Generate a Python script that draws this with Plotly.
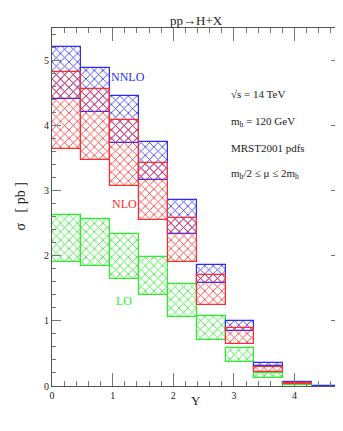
import plotly.graph_objects as go

# Bin edges in rapidity Y
bin_width = 0.477
bin_lo = [0.0, 0.477, 0.954, 1.431, 1.908, 2.385, 2.862, 3.339, 3.816, 4.293]

# NNLO band (blue)
nnlo_low  = [4.41, 4.21, 3.74, 3.16, 2.33, 1.59, 0.85, 0.300, 0.045, 0.000]
nnlo_high = [5.21, 4.88, 4.45, 3.75, 2.85, 1.856, 0.995, 0.356, 0.065, 0.006]
# NLO band (red)
nlo_low  = [3.64, 3.47, 3.07, 2.55, 1.91, 1.24, 0.64, 0.218, 0.030, None]
nlo_high = [4.82, 4.57, 4.08, 3.42, 2.58, 1.70, 0.89, 0.295, 0.045, None]
# LO band (green)
lo_low  = [1.91, 1.85, 1.65, 1.395, 1.06, 0.714, 0.37, 0.126, 0.010, None]
lo_high = [2.63, 2.56, 2.33, 1.985, 1.56, 1.07, 0.587, 0.20, 0.025, None]

FONT = "Liberation Serif"
BLUE = "#2b2bff"
RED = "#ff2b2b"
GREEN = "#2bee2b"
CLEAR = "rgba(0,0,0,0)"

fig = go.Figure()

def band(low, high, color, name):
    xs, bases, heights = [], [], []
    for x0, lo, hi in zip(bin_lo, low, high):
        if lo is None or hi is None:
            continue
        xs.append(x0 + bin_width / 2)
        bases.append(lo)
        heights.append(hi - lo)
    fig.add_trace(go.Bar(
        x=xs, y=heights, base=bases, width=bin_width, name=name,
        marker=dict(
            color=CLEAR,
            line=dict(color=color, width=1.2),
            pattern=dict(shape="x", fillmode="replace", fgcolor=color,
                         bgcolor=CLEAR, size=6, solidity=0.25),
        ),
        showlegend=False,
    ))

band(lo_low, lo_high, GREEN, "LO")
band(nnlo_low, nnlo_high, BLUE, "NNLO")
band(nlo_low, nlo_high, RED, "NLO")

ann = []
ann.append(dict(x=1.255, y=4.75, text="NNLO", showarrow=False,
                font=dict(family=FONT, size=12, color=BLUE)))
ann.append(dict(x=1.19, y=2.79, text="NLO", showarrow=False,
                font=dict(family=FONT, size=12, color=RED)))
ann.append(dict(x=1.19, y=1.30, text="LO", showarrow=False,
                font=dict(family=FONT, size=12, color=GREEN)))
info = ["√s = 14 TeV", "m<sub>h</sub> = 120 GeV", "MRST2001 pdfs",
        "m<sub>h</sub>/2 ≤ μ ≤ 2m<sub>h</sub>"]
info_y = [4.48, 4.06, 3.66, 3.25]
for t, yy in zip(info, info_y):
    ann.append(dict(x=2.92, y=yy, text=t, showarrow=False, xanchor="left",
                    font=dict(family=FONT, size=11, color="#222")))
ann.append(dict(xref="paper", yref="paper", x=0, y=0.5, xshift=-42,
                text="σ   [ pb ]", textangle=-90, showarrow=False,
                font=dict(family=FONT, size=14, color="#222")))
ann.append(dict(xref="paper", yref="paper", x=0.5, y=1, yshift=17,
                text="pp→H+X", showarrow=False,
                font=dict(family=FONT, size=13, color="#222")))
ann.append(dict(xref="paper", yref="paper", x=0.5, y=0, yshift=-24,
                text="Y", showarrow=False,
                font=dict(family=FONT, size=13, color="#222")))

# the page body adds an 8px offset, so the figure is sized to fit the window
fig.update_layout(
    width=335, height=423,
    margin=dict(l=44, r=2.5, t=20, b=44.5, autoexpand=False),
    paper_bgcolor="white", plot_bgcolor="white",
    barmode="overlay", bargap=0,
    annotations=ann,
    font=dict(family=FONT, size=10, color="#222"),
)
fig.update_xaxes(
    range=[0, 4.75], showgrid=False, zeroline=False, automargin=False,
    showline=True, linecolor="#555", linewidth=1, mirror="allticks",
    ticks="inside", ticklen=13, tickcolor="#777", dtick=1, tick0=0,
    minor=dict(ticks="inside", ticklen=5, dtick=0.2, tickcolor="#777"),
    tickfont=dict(family=FONT, size=10),
)
fig.update_yaxes(
    range=[0, 5.5], showgrid=False, zeroline=False, automargin=False,
    showline=True, linecolor="#555", linewidth=1, mirror="allticks",
    ticks="inside", ticklen=9, tickcolor="#777", dtick=1, tick0=0,
    minor=dict(ticks="inside", ticklen=4, dtick=0.2, tickcolor="#777"),
    tickfont=dict(family=FONT, size=10),
)

fig.write_html("out.html")
